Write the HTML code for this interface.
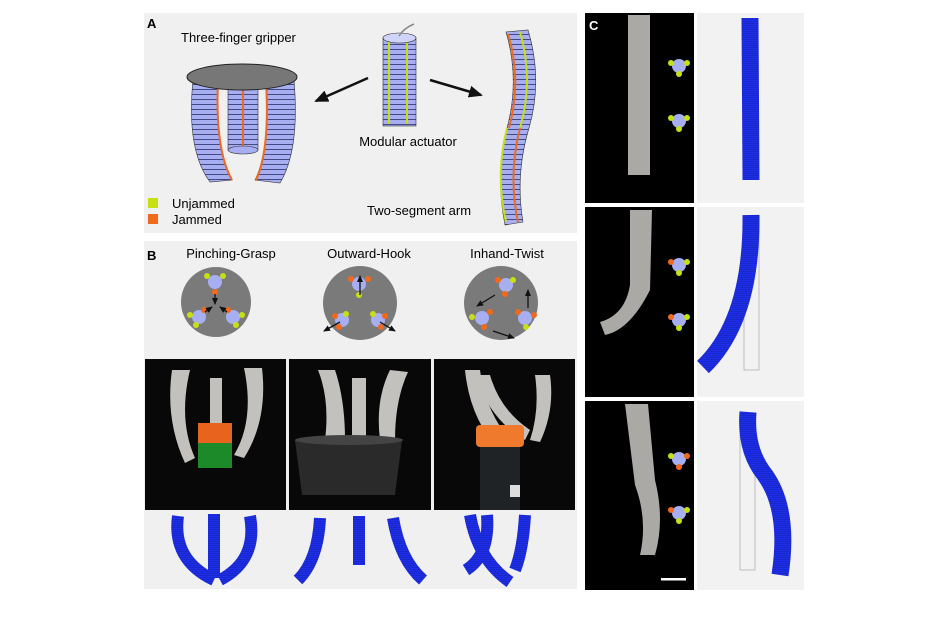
<!DOCTYPE html><html><head><style>body{margin:0;background:#fff}svg{display:block}text{font-family:"Liberation Sans",sans-serif}</style></head><body>
<svg width="942" height="624" viewBox="0 0 942 624" xmlns="http://www.w3.org/2000/svg">
<defs>
<pattern id="rib" width="8" height="5" patternUnits="userSpaceOnUse"><rect width="8" height="5" fill="#a7aef2"/><line x1="0" y1="4.5" x2="8" y2="4.5" stroke="#2a2f66" stroke-width="0.8"/></pattern>
<pattern id="rib2" width="6" height="2" patternUnits="userSpaceOnUse"><rect width="6" height="2" fill="#1f2ee8"/><line x1="0" y1="1.5" x2="6" y2="1.5" stroke="#1322b8" stroke-width="0.6"/></pattern>
<marker id="ah" markerUnits="userSpaceOnUse" markerWidth="14" markerHeight="12" refX="12" refY="6" orient="auto"><path d="M0,0 L14,6 L0,12z" fill="#111"/></marker>
<marker id="ahs" markerUnits="userSpaceOnUse" markerWidth="7" markerHeight="6" refX="6" refY="3" orient="auto"><path d="M0,0 L7,3 L0,6z" fill="#111"/></marker>
</defs>
<!-- Panel A -->
<rect x="144" y="13" width="433" height="220" fill="#f0f0f0"/>
<text x="147" y="28" font-size="13" font-weight="bold">A</text>
<text x="181" y="42" font-size="13">Three-finger gripper</text>
<path d="M193,80 Q186,150 210,182 L232,180 Q215,150 218,82Z" fill="url(#rib)" stroke="#333" stroke-width="0.6"/>
<path d="M218,82 Q215,150 232,180" fill="none" stroke="#ef6a1e" stroke-width="2"/>
<rect x="228" y="88" width="30" height="62" fill="url(#rib)" stroke="#333" stroke-width="0.6"/>
<line x1="243" y1="88" x2="243" y2="150" stroke="#ef6a1e" stroke-width="2"/>
<ellipse cx="243" cy="150" rx="15" ry="4" fill="#a7aef2" stroke="#333" stroke-width="0.6"/>
<path d="M294,80 Q300,150 280,183 L255,180 Q270,150 266,82Z" fill="url(#rib)" stroke="#333" stroke-width="0.6"/>
<path d="M266,82 Q270,150 256,180" fill="none" stroke="#ef6a1e" stroke-width="2"/>
<ellipse cx="242" cy="77" rx="55" ry="13" fill="#777" stroke="#222"/>
<rect x="383" y="38" width="33" height="88" fill="url(#rib)" stroke="#333" stroke-width="0.6"/>
<line x1="389" y1="42" x2="389" y2="124" stroke="#c6e013" stroke-width="2"/>
<line x1="407" y1="42" x2="407" y2="124" stroke="#c6e013" stroke-width="2"/>
<ellipse cx="399.5" cy="38" rx="16.5" ry="5" fill="#d0d4f8" stroke="#333" stroke-width="0.6"/>
<path d="M399,36 Q404,28 414,24" fill="none" stroke="#888" stroke-width="1.5"/>
<text x="408" y="146" font-size="13" text-anchor="middle">Modular actuator</text>
<line x1="368" y1="78" x2="316" y2="101" stroke="#111" stroke-width="2.5" marker-end="url(#ah)"/>
<line x1="430" y1="80" x2="481" y2="95" stroke="#111" stroke-width="2.5" marker-end="url(#ah)"/>
<path d="M506,32 Q520,80 507,128 Q495,175 505,225 L523,222 Q515,175 529,128 Q543,80 528,30Z" fill="url(#rib)" stroke="#333" stroke-width="0.6"/>
<path d="M508,34 Q522,80 509,128" fill="none" stroke="#ef6a1e" stroke-width="2"/>
<path d="M520,32 Q534,80 520,128" fill="none" stroke="#c6e013" stroke-width="2"/>
<path d="M507,128 Q495,175 506,222" fill="none" stroke="#c6e013" stroke-width="2"/>
<path d="M520,128 Q508,175 518,222" fill="none" stroke="#ef6a1e" stroke-width="2"/>
<rect x="148" y="198" width="10" height="10" fill="#c6e013"/>
<rect x="148" y="214" width="10" height="10" fill="#f2691c"/>
<text x="172" y="208" font-size="13">Unjammed</text>
<text x="172" y="224" font-size="13">Jammed</text>
<text x="367" y="215" font-size="13">Two-segment arm</text>
<!-- Panel B -->
<rect x="144" y="241" width="433" height="348" fill="#f0f0f0"/>
<text x="147" y="260" font-size="13" font-weight="bold">B</text>
<text x="231" y="258" font-size="13" text-anchor="middle">Pinching-Grasp</text>
<text x="369" y="258" font-size="13" text-anchor="middle">Outward-Hook</text>
<text x="507" y="258" font-size="13" text-anchor="middle">Inhand-Twist</text>
<circle cx="216" cy="302" r="35" fill="#7a7a7a"/>
<circle cx="360" cy="303" r="37" fill="#7a7a7a"/>
<circle cx="501" cy="303" r="37" fill="#7a7a7a"/>
<g fill="#a7aef2">
<circle cx="215" cy="282" r="7"/><circle cx="199" cy="317" r="7"/><circle cx="233" cy="317" r="7"/>
<circle cx="359" cy="284" r="7"/><circle cx="342" cy="320" r="7"/><circle cx="378" cy="320" r="7"/>
<circle cx="506" cy="285" r="7"/><circle cx="482" cy="318" r="7"/><circle cx="525" cy="318" r="7"/>
</g>
<g fill="#c6e013"><circle cx="207" cy="276" r="3"/><circle cx="223" cy="276" r="3"/><circle cx="190" cy="315" r="3"/><circle cx="196" cy="325" r="3"/><circle cx="242" cy="315" r="3"/><circle cx="236" cy="325" r="3"/>
<circle cx="359" cy="295" r="3"/><circle cx="346" cy="314" r="3"/><circle cx="373" cy="314" r="3"/>
<circle cx="513" cy="280" r="3"/><circle cx="472" cy="317" r="3"/><circle cx="526" cy="327" r="3"/></g>
<g fill="#f2691c"><circle cx="215" cy="292" r="3"/><circle cx="204" cy="310" r="3"/><circle cx="228" cy="310" r="3"/>
<circle cx="351" cy="279" r="3"/><circle cx="368" cy="279" r="3"/><circle cx="335" cy="316" r="3"/><circle cx="339" cy="327" r="3"/><circle cx="385" cy="316" r="3"/><circle cx="381" cy="327" r="3"/>
<circle cx="498" cy="280" r="3"/><circle cx="505" cy="294" r="3"/><circle cx="490" cy="312" r="3"/><circle cx="484" cy="327" r="3"/><circle cx="518" cy="312" r="3"/><circle cx="534" cy="315" r="3"/></g>
<g stroke="#111" stroke-width="1.3" marker-end="url(#ahs)">
<line x1="215" y1="294" x2="215" y2="304"/><line x1="205" y1="312" x2="212" y2="307"/><line x1="227" y1="312" x2="220" y2="307"/>
<line x1="360" y1="295" x2="360" y2="276"/><line x1="340" y1="322" x2="324" y2="331"/><line x1="380" y1="322" x2="395" y2="331"/>
<line x1="495" y1="295" x2="477" y2="306"/><line x1="493" y1="331" x2="514" y2="338"/><line x1="528" y1="308" x2="528" y2="290"/>
</g>
<!-- photos -->
<rect x="145" y="359" width="141" height="151" fill="#080808"/>
<rect x="289" y="359" width="142" height="151" fill="#080808"/>
<rect x="434" y="359" width="141" height="151" fill="#080808"/>
<g fill="#d8d6d2" opacity="0.9">
<path d="M172,370 Q165,420 185,463 L195,458 Q178,420 190,370Z"/><rect x="210" y="378" width="12" height="50"/><path d="M244,368 Q255,420 234,455 L244,458 Q268,420 262,368Z"/>
<path d="M318,370 Q330,400 325,440 L345,440 Q345,400 335,370Z"/><rect x="352" y="378" width="14" height="62"/><path d="M390,370 Q375,400 380,440 L395,440 Q395,400 408,372Z"/>
<path d="M465,370 Q470,420 500,450 L510,440 Q485,410 480,370Z"/><path d="M475,375 Q490,420 525,440 L530,430 Q500,410 490,375Z"/><path d="M535,375 Q540,410 530,440 L540,442 Q555,410 550,375Z"/>
</g>
<rect x="198" y="423" width="34" height="45" fill="#1d8a2a"/><rect x="198" y="423" width="34" height="20" fill="#e8641e"/>
<path d="M295,440 L402,440 L395,495 L302,495Z" fill="#2a2a2a"/><ellipse cx="349" cy="440" rx="54" ry="5" fill="#444"/>
<rect x="476" y="425" width="48" height="22" rx="4" fill="#ef7a2e"/><rect x="480" y="447" width="40" height="63" fill="#1f2326"/><rect x="510" y="485" width="10" height="12" fill="#ddd"/>
<!-- B renderings -->
<g fill="none" stroke="url(#rib2)" stroke-width="12" stroke-linecap="butt">
<path d="M178,516 Q172,560 214,580"/><path d="M214,514 L214,578"/><path d="M250,516 Q258,560 220,580"/>
<path d="M320,518 Q318,560 298,580"/><path d="M359,516 L359,565"/><path d="M393,518 Q400,560 423,580"/>
<path d="M470,515 Q478,560 510,582"/><path d="M487,515 Q490,555 466,570"/><path d="M525,515 Q523,550 515,570"/>
</g>
<!-- Panel C -->
<rect x="585" y="13" width="109" height="190" fill="#000"/>
<rect x="585" y="207" width="109" height="190" fill="#000"/>
<rect x="585" y="401" width="109" height="189" fill="#000"/>
<rect x="697" y="13" width="107" height="190" fill="#f2f2f2"/>
<rect x="697" y="207" width="107" height="190" fill="#f2f2f2"/>
<rect x="697" y="401" width="107" height="189" fill="#f2f2f2"/>
<text x="589" y="30" font-size="13" font-weight="bold" fill="#fff">C</text>
<g fill="#c9c7c3" opacity="0.85">
<rect x="628" y="15" width="22" height="160"/>
<path d="M630,210 L652,210 L650,290 Q630,330 605,335 L600,322 Q625,315 630,285Z"/>
<path d="M625,404 L648,404 L655,480 Q665,520 655,555 L640,555 Q648,520 635,485Z"/>
</g>
<rect x="661" y="578" width="25" height="2.5" fill="#fff"/>
<g>
<circle cx="679" cy="66" r="7" fill="#a7aef2"/><circle cx="671" cy="63" r="3" fill="#c6e013"/><circle cx="687" cy="63" r="3" fill="#c6e013"/><circle cx="679" cy="74" r="3" fill="#c6e013"/>
<circle cx="679" cy="121" r="7" fill="#a7aef2"/><circle cx="671" cy="118" r="3" fill="#c6e013"/><circle cx="687" cy="118" r="3" fill="#c6e013"/><circle cx="679" cy="129" r="3" fill="#c6e013"/>
<circle cx="679" cy="265" r="7" fill="#a7aef2"/><circle cx="671" cy="262" r="3" fill="#f2691c"/><circle cx="687" cy="262" r="3" fill="#c6e013"/><circle cx="679" cy="273" r="3" fill="#c6e013"/>
<circle cx="679" cy="320" r="7" fill="#a7aef2"/><circle cx="671" cy="317" r="3" fill="#f2691c"/><circle cx="687" cy="317" r="3" fill="#c6e013"/><circle cx="679" cy="328" r="3" fill="#c6e013"/>
<circle cx="679" cy="459" r="7" fill="#a7aef2"/><circle cx="671" cy="456" r="3" fill="#c6e013"/><circle cx="687" cy="456" r="3" fill="#f2691c"/><circle cx="679" cy="467" r="3" fill="#f2691c"/>
<circle cx="679" cy="513" r="7" fill="#a7aef2"/><circle cx="671" cy="510" r="3" fill="#f2691c"/><circle cx="687" cy="510" r="3" fill="#c6e013"/><circle cx="679" cy="521" r="3" fill="#c6e013"/>
</g>
<rect x="744" y="216" width="15" height="154" fill="none" stroke="#999" stroke-width="0.6"/>
<rect x="740" y="418" width="15" height="152" fill="none" stroke="#999" stroke-width="0.6"/>
<g fill="none" stroke="url(#rib2)" stroke-width="17">
<path d="M750,18 L751,180"/>
<path d="M751,215 Q752,320 703,367"/>
<path d="M748,412 Q745,450 765,475 Q790,510 780,575"/>
</g>
</svg>
</body></html>
